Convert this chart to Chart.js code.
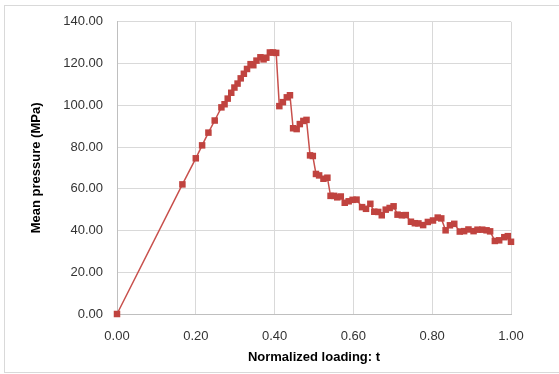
<!DOCTYPE html>
<html>
<head>
<meta charset="utf-8">
<script src="https://cdn.jsdelivr.net/npm/chart.js@4/dist/chart.umd.min.js"></script>
<style>
  html, body { margin: 0; padding: 0; background: #fff; }
  #wrap { width: 559px; height: 374px; }
</style>
</head>
<body>
<div id="wrap"><canvas id="pressure-chart" width="559" height="374"></canvas></div>
<script>
// normalized loading t
const loading = [
  0, 0.166, 0.200, 0.216, 0.232, 0.248, 0.265, 0.273, 0.281, 0.290,
  0.298, 0.306, 0.314, 0.322, 0.330, 0.339, 0.346, 0.354, 0.364, 0.372,
  0.379, 0.388, 0.396, 0.404, 0.412, 0.421, 0.431, 0.439, 0.447, 0.456,
  0.464, 0.473, 0.481, 0.490, 0.497, 0.505, 0.513, 0.524, 0.534, 0.542,
  0.551, 0.559, 0.568, 0.578, 0.588, 0.598, 0.608, 0.622, 0.632, 0.643,
  0.653, 0.663, 0.672, 0.682, 0.692, 0.702, 0.712, 0.723, 0.733, 0.746,
  0.756, 0.765, 0.777, 0.789, 0.802, 0.814, 0.823, 0.834, 0.845, 0.856,
  0.870, 0.881, 0.892, 0.905, 0.915, 0.927, 0.938, 0.947, 0.959, 0.970,
  0.983, 0.992, 1.000
];
// mean pressure (MPa)
const pressure = [
  0, 62.1, 74.6, 80.8, 86.9, 92.7, 99.0, 100.5, 103.2, 106.0,
  108.5, 110.4, 112.9, 115.1, 117.4, 119.7, 119.2, 121.4, 123.0, 122.0,
  122.8, 125.3, 125.3, 125.1, 99.6, 101.5, 103.8, 104.8, 89.0, 88.6,
  91.0, 92.5, 93.0, 76.0, 75.7, 67.1, 66.4, 64.8, 65.3, 56.6,
  56.6, 55.9, 56.3, 53.3, 54.0, 54.7, 54.8, 51.2, 50.4, 52.8,
  49.0, 48.9, 47.3, 50.0, 50.8, 51.6, 47.6, 47.3, 47.4, 44.2,
  43.5, 43.4, 42.6, 44.1, 44.8, 46.2, 45.8, 40.1, 42.5, 43.2,
  39.5, 39.7, 40.5, 39.7, 40.4, 40.4, 40.1, 39.6, 35.0, 35.3,
  36.8, 37.3, 34.6
];
const xTicks = [0, 0.2, 0.4, 0.6, 0.8, 1.0];
const yTicks = [0, 20, 40, 60, 80, 100, 120, 140];

const points = loading.map((t, i) => ({ x: t, y: pressure[i] }));

const frame = {
  id: 'frame',
  beforeDraw(chart) {
    const ctx = chart.ctx;
    ctx.save();
    ctx.fillStyle = '#fff';
    ctx.fillRect(0, 0, chart.width, chart.height);
    ctx.strokeStyle = '#d9d9d9';
    ctx.lineWidth = 1;
    ctx.strokeRect(4.5, 5.5, 560, 367);
    ctx.restore();
  }
};

const tickFont = { family: 'Liberation Sans, Arial, sans-serif', size: 13 };
const titleFont = { family: 'Liberation Sans, Arial, sans-serif', size: 13, weight: 'bold' };

new Chart(document.getElementById('pressure-chart').getContext('2d'), {
  type: 'scatter',
  data: {
    datasets: [{
      label: 'Mean pressure',
      data: points,
      showLine: true,
      clip: false,
      borderColor: '#c8504c',
      backgroundColor: '#c0433f',
      borderWidth: 1.5,
      pointStyle: 'rect',
      pointRadius: 4.6,
      pointHoverRadius: 4.6,
      pointBorderWidth: 0
    }]
  },
  options: {
    responsive: false,
    animation: false,
    layout: { padding: { top: 14, right: 48, bottom: 0, left: 0 } },
    plugins: { legend: { display: false }, tooltip: { enabled: false } },
    scales: {
      x: {
        type: 'linear',
        min: 0,
        max: 1,
        afterBuildTicks: s => { s.ticks = xTicks.map(v => ({ value: v })); },
        afterFit: s => { s.height = 60; },
        ticks: {
          color: '#333',
          font: tickFont,
          padding: 15,
          maxRotation: 0,
          callback: v => Number(v).toFixed(2)
        },
        grid: { color: '#d9d9d9', drawTicks: false },
        border: { color: '#bfbfbf' },
        title: {
          display: true,
          text: 'Normalized loading: t',
          color: '#000',
          font: titleFont,
          padding: { bottom: 9 }
        }
      },
      y: {
        type: 'linear',
        min: 0,
        max: 140,
        afterBuildTicks: s => { s.ticks = yTicks.map(v => ({ value: v })); },
        afterFit: s => { s.width = 117; },
        ticks: {
          color: '#333',
          font: tickFont,
          padding: 14,
          callback: v => Number(v).toFixed(2)
        },
        grid: { color: '#d9d9d9', drawTicks: false },
        border: { color: '#bfbfbf' },
        title: {
          display: true,
          text: 'Mean pressure (MPa)',
          color: '#000',
          font: titleFont,
          padding: { top: 29 }
        }
      }
    }
  },
  plugins: [frame]
});
</script>
</body>
</html>
